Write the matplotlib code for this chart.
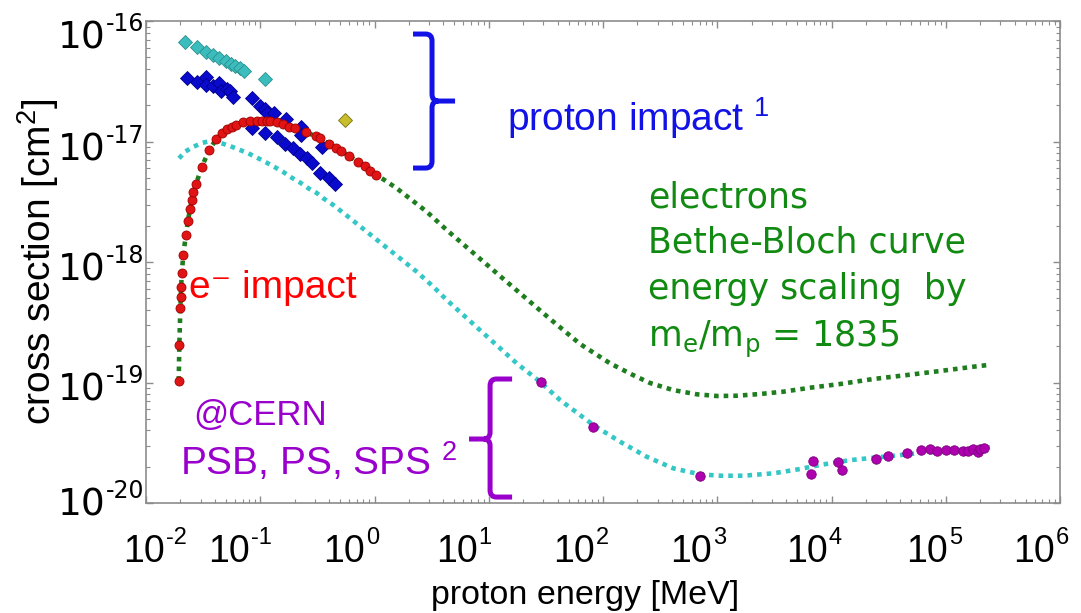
import matplotlib.pyplot as plt
import numpy as np
from matplotlib.path import Path
from matplotlib.patches import PathPatch
from matplotlib.transforms import offset_copy

plt.rcParams['font.family'] = ['Liberation Sans', 'DejaVu Sans']
plt.rcParams['mathtext.fontset'] = 'custom'
plt.rcParams['mathtext.rm'] = 'Liberation Sans'
plt.rcParams['mathtext.it'] = 'Liberation Sans:italic'
plt.rcParams['mathtext.default'] = 'regular'

# ---- proton impact, first data set (cyan diamonds) ----
p1_E = [0.0219, 0.0278, 0.0335, 0.0388, 0.0439, 0.0499, 0.0551, 0.0605, 0.0665, 0.0721, 0.110]
p1_sig = [6.65e-17, 6.12e-17, 5.56e-17, 5.19e-17, 4.90e-17, 4.62e-17, 4.43e-17, 4.24e-17,
          4.05e-17, 3.87e-17, 3.29e-17]

# ---- proton impact, second data set (blue diamonds) ----
p2_E = [0.0230, 0.0281, 0.0335, 0.0335, 0.0384, 0.0438, 0.0451, 0.0508, 0.0543, 0.0574,
        0.0841, 0.0995, 0.110, 0.114, 0.132, 0.168, 0.226, 0.226, 0.345,
        0.0841, 0.110, 0.139, 0.166, 0.195, 0.223, 0.255, 0.282, 0.333, 0.397, 0.454]
p2_sig = [3.39e-17, 3.12e-17, 3.41e-17, 2.94e-17, 2.89e-17, 3.08e-17, 2.61e-17, 2.73e-17,
          2.61e-17, 2.33e-17, 2.31e-17, 1.96e-17, 1.85e-17, 1.71e-17, 1.73e-17, 1.53e-17,
          1.31e-17, 1.13e-17, 9.06e-18,
          1.30e-17, 1.18e-17, 1.10e-17, 9.48e-18, 8.79e-18, 7.87e-18, 7.26e-18, 6.67e-18,
          5.51e-18, 5.01e-18, 4.44e-18]

# ---- proton impact, single point (olive diamond) ----
p3_E = [0.552]
p3_sig = [1.51e-17]

# ---- electron impact (red circles) ----
e_E = [0.01932, 0.01956, 0.01996, 0.02012, 0.02024, 0.02053, 0.0212, 0.02226, 0.02317,
       0.02427, 0.02512, 0.02594, 0.0274, 0.03074, 0.03581, 0.04101, 0.04598, 0.05085,
       0.05625, 0.06135, 0.07107, 0.08132, 0.09309, 0.1030, 0.1139, 0.1217, 0.1393,
       0.1591, 0.1796, 0.2015, 0.2515, 0.3057, 0.3334, 0.4022, 0.4575, 0.5059, 0.6018,
       0.7099, 0.8208, 0.9133, 1.0245]
e_sig = [1.035e-19, 2.05e-19, 4.13e-19, 5.15e-19, 6.24e-19, 8.06e-19, 1.143e-18, 1.667e-18,
         2.20e-18, 2.74e-18, 3.27e-18, 3.83e-18, 4.44e-18, 6.18e-18, 8.50e-18, 1.043e-17,
         1.17e-17, 1.262e-17, 1.327e-17, 1.378e-17, 1.443e-17, 1.471e-17, 1.488e-17,
         1.488e-17, 1.488e-17, 1.488e-17, 1.443e-17, 1.389e-17, 1.327e-17, 1.287e-17,
         1.206e-17, 1.111e-17, 1.063e-17, 9.53e-18, 8.88e-18, 8.39e-18, 7.54e-18, 6.80e-18,
         6.22e-18, 5.72e-18, 5.27e-18]

# ---- measurements at CERN machines (magenta circles) ----
cern_E = [28.66, 82.2, 706, 6577, 6934, 11470, 12430, 24520, 31040, 46070, 60390, 72810,
          84330, 1.0e5, 1.18e5, 1.425e5, 1.575e5, 1.742e5, 1.927e5, 1.995e5, 2.161e5]
cern_sig = [1.005e-19, 4.30e-20, 1.675e-20, 1.73e-20, 2.24e-20, 2.18e-20, 1.88e-20,
            2.33e-20, 2.455e-20, 2.60e-20, 2.75e-20, 2.79e-20, 2.72e-20, 2.75e-20,
            2.77e-20, 2.72e-20, 2.72e-20, 2.82e-20, 2.67e-20, 2.79e-20, 2.84e-20]

# ---- Bethe-Bloch, protons (cyan dotted) ----
bb_p_E = [0.01944, 0.02195, 0.02594, 0.03134, 0.03758, 0.04598, 0.05433, 0.06648, 0.0786,
          0.09614, 0.1139, 0.1346, 0.1591, 0.1885, 0.2228, 0.2634, 0.3119, 0.3563, 0.4358,
          0.6103, 0.8546, 1.194, 1.672, 2.341, 3.271, 4.284, 17.56, 28.10, 42.03, 82.26,
          140.8, 241.3, 412.4, 706.3, 1057, 1690, 3095, 5297, 7925, 14520, 28400, 55680,
          1.09e5, 2.44e5]
bb_p_sig = [7.25e-18, 8.23e-18, 9.05e-18, 9.77e-18, 1.015e-17, 9.66e-18, 9.18e-18, 8.50e-18,
            7.98e-18, 7.25e-18, 6.67e-18, 6.11e-18, 5.58e-18, 5.01e-18, 4.57e-18, 4.09e-18,
            3.74e-18, 3.38e-18, 2.97e-18, 2.31e-18, 1.785e-18, 1.384e-18, 1.073e-18,
            8.31e-19, 6.24e-19, 4.84e-19, 1.443e-19, 1.015e-19, 7.16e-20, 4.44e-20, 3.23e-20,
            2.42e-20, 1.94e-20, 1.73e-20, 1.685e-20, 1.685e-20, 1.764e-20, 1.915e-20,
            2.07e-20, 2.27e-20, 2.42e-20, 2.585e-20, 2.72e-20, 2.90e-20]

# ---- Bethe-Bloch, electrons with energy scaled by me/mp (green dotted) ----
bb_e_E = [0.01932, 0.01956, 0.01996, 0.02053, 0.0212, 0.02226, 0.02331, 0.02512, 0.0274,
          0.03074, 0.03581, 0.04101, 0.05085, 0.06135, 0.08132, 0.1057, 0.1393, 0.1796,
          0.2515, 0.3334, 0.4575, 0.6018, 0.8208, 1.0245, 1.194, 1.564, 2.117, 2.863, 4.285,
          12.55, 34.36, 62.9, 115.2, 183.0, 257.9, 410.0, 665.0, 995, 1489, 2367, 3763,
          6482, 11870, 23080, 45790, 89060, 1.732e5, 2.343e5]
bb_e_sig = [1.035e-19, 2.05e-19, 4.13e-19, 8.06e-19, 1.143e-18, 1.667e-18, 2.23e-18,
            3.27e-18, 4.44e-18, 6.18e-18, 8.50e-18, 1.043e-17, 1.262e-17, 1.378e-17,
            1.46e-17, 1.471e-17, 1.432e-17, 1.327e-17, 1.20e-17, 1.059e-17, 8.88e-18,
            7.54e-18, 6.22e-18, 5.27e-18, 4.86e-18, 4.09e-18, 3.27e-18, 2.615e-18,
            1.843e-18, 7.65e-19, 3.37e-19, 2.09e-19, 1.443e-19, 1.154e-19, 9.91e-20,
            8.66e-20, 7.98e-20, 7.73e-20, 7.77e-20, 8.03e-20, 8.39e-20, 9.05e-20, 9.72e-20,
            1.069e-19, 1.154e-19, 1.246e-19, 1.352e-19, 1.397e-19]

x_exps = [-2, -1, 0, 1, 2, 3, 4, 5, 6]
y_exps = [-16, -17, -18, -19, -20]

BLUE = '#1212E6'
RED = '#FF0000'
PURPLE = '#9A00CC'
GREEN = '#118A11'


def brace(ax, x, y_top, y_bot, y_tip, arm, tip, color):
    # curly bracket drawn in axes fraction; arm/tip signs set the facing side
    rx, ry = 0.007, 0.014
    sa, st = np.sign(arm), np.sign(tip)
    verts = [(x + arm, y_top), (x + sa * rx, y_top), (x, y_top), (x, y_top - ry),
             (x, y_tip + ry), (x, y_tip), (x + st * rx, y_tip), (x + tip, y_tip),
             (x + st * rx, y_tip), (x, y_tip), (x, y_tip - ry),
             (x, y_bot + ry), (x, y_bot), (x + sa * rx, y_bot), (x + arm, y_bot)]
    codes = [Path.MOVETO, Path.LINETO, Path.CURVE3, Path.CURVE3,
             Path.LINETO, Path.CURVE3, Path.CURVE3, Path.LINETO,
             Path.MOVETO, Path.CURVE3, Path.CURVE3,
             Path.LINETO, Path.CURVE3, Path.CURVE3, Path.LINETO]
    ax.add_patch(PathPatch(Path(verts, codes), transform=ax.transAxes, fill=False,
                           edgecolor=color, lw=3.6, capstyle='butt', clip_on=False))


def power_label(ax, x, y, exp, size, sup_size, rise, family):
    # "10" ends at x, the exponent starts there, raised by `rise` points
    ax.text(x, y, '10', transform=ax.transAxes, ha='right', va='baseline',
            fontsize=size, family=family)
    tr = offset_copy(ax.transAxes, fig=ax.figure, x=0.5, y=rise, units='points')
    ax.text(x, y, str(exp), transform=tr, ha='left', va='baseline',
            fontsize=sup_size, family=family)


fig = plt.figure(figsize=(10.81, 6.13), dpi=100)
ax = fig.add_axes([0.1351, 0.1794, 0.8455, 0.7863])

ax.plot(bb_p_E, bb_p_sig, color='#35C6C6', lw=3.3, linestyle=(0, (1, 1.1)), zorder=2)
ax.plot(bb_e_E, bb_e_sig, color='#1E7D1E', lw=3.3, linestyle=(0, (1, 1.1)), zorder=2)

ax.plot(p1_E, p1_sig, 'D', ms=6.8, color='#3CBDBD', mec='#2A8F8F', mew=0.6, zorder=3)
ax.plot(p2_E, p2_sig, 'D', ms=6.8, color='#0A0ACC', mec='#000090', mew=0.6, zorder=3)
ax.plot(p3_E, p3_sig, 'D', ms=6.8, color='#C8BE2C', mec='#7A7010', mew=0.6, zorder=3)
ax.plot(e_E, e_sig, 'o', ms=6.5, color='#E01414', mec='#A00000', mew=0.6, zorder=4)
ax.plot(cern_E, cern_sig, 'o', ms=6.8, color='#AE00AE', mec='#7E007E', mew=0.6, zorder=4)

ax.set_xscale('log')
ax.set_yscale('log')
ax.set_xlim(1e-2, 1e6)
ax.set_ylim(1e-20, 1e-16)

for s in ax.spines.values():
    s.set_color('#8C8C8C')
    s.set_linewidth(1.2)
ax.tick_params(which='both', direction='in', top=True, right=True, colors='#8C8C8C',
               labelleft=False, labelbottom=False)
ax.tick_params(which='major', length=5, width=1.0)
ax.tick_params(which='minor', length=3, width=0.8)

# large tick labels set over the axes
x_lab_pos = [0.0208, 0.1138, 0.2396, 0.3632, 0.4912, 0.6193, 0.7462, 0.8775, 0.9945]
for e, xp in zip(x_exps, x_lab_pos):
    power_label(ax, xp, -0.1224, e, 27, 17, 13, ['Liberation Sans'])
y_lab_pos = [0.944, 0.7116, 0.4627, 0.2137, -0.0249]
for e, yp in zip(y_exps, y_lab_pos):
    power_label(ax, -0.0445, yp, e, 27, 17, 12, ['DejaVu Sans'])

fig.text(0.541, 0.0147, 'proton energy [MeV]', ha='center', va='baseline', fontsize=24.5)
fig.text(0.035, 0.573, 'cross section [cm$^2$]', ha='center', va='center',
         rotation=90, fontsize=28)

ax.text(0.395, 0.772, 'proton impact $^1$', transform=ax.transAxes, color=BLUE,
        fontsize=28, va='baseline')
ax.text(0.047, 0.425, 'e\u207b impact', transform=ax.transAxes, color=RED,
        fontsize=28, va='baseline')
ax.text(0.052, 0.162, '@CERN', transform=ax.transAxes, color=PURPLE,
        fontsize=25, va='baseline')
ax.text(0.037, 0.058, 'PSB, PS, SPS $^2$', transform=ax.transAxes, color=PURPLE,
        fontsize=28, va='baseline')

green_lines = ['electrons', 'Bethe-Bloch curve', 'energy scaling  by',
               'm$_e$/m$_p$ = 1835']
green_base = [0.614, 0.519, 0.423, 0.323]
for txt, yb in zip(green_lines, green_base):
    ax.text(0.549, yb, txt, transform=ax.transAxes, color=GREEN, fontsize=25,
            va='baseline', family=['DejaVu Sans'])

brace(ax, 0.3129, 0.973, 0.695, 0.834, -0.0208, 0.0252, BLUE)
brace(ax, 0.3764, 0.2573, 0.0124, 0.1328, 0.0241, -0.023, PURPLE)

fig.savefig('out.png', dpi=100, facecolor='white')
